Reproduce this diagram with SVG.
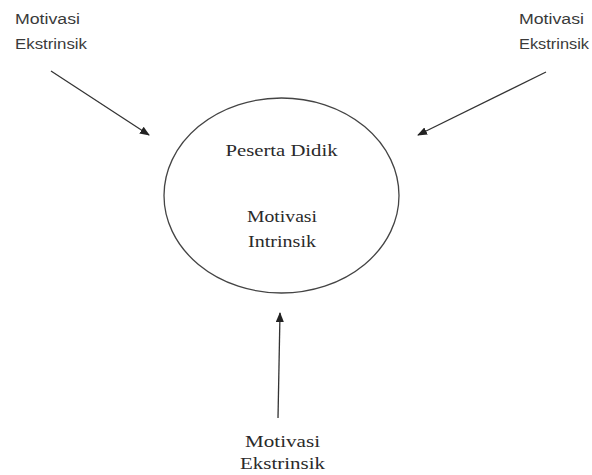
<svg xmlns="http://www.w3.org/2000/svg" width="592" height="475" viewBox="0 0 592 475">
<style>
.sans{font-family:"Liberation Sans",Arial,sans-serif;font-size:14px;fill:#3a3a3a}
.serif{font-family:"Liberation Serif","Times New Roman",serif;font-size:17px;fill:#2a2a2a;text-anchor:middle}
.conn{stroke:#333;stroke-width:1.3;fill:none;marker-end:url(#ah)}
</style>
<defs>
<marker id="ah" markerWidth="10" markerHeight="8" refX="9" refY="4" orient="auto" markerUnits="userSpaceOnUse">
<path d="M0,0 L10,4 L0,8 Z" fill="#222"/>
</marker>
</defs>
<rect width="592" height="475" fill="#fff"/>
<g id="connectors">
<line class="conn" x1="51" y1="71" x2="149" y2="135"/>
<line class="conn" x1="546" y1="72" x2="418" y2="135"/>
<line class="conn" x1="278" y1="418" x2="280" y2="313"/>
</g>
<g id="node-center">
<ellipse cx="281.5" cy="195.5" rx="117.5" ry="97.5" fill="none" stroke="#444" stroke-width="1.3"/>
<text class="serif" x="281.5" y="156" textLength="112" lengthAdjust="spacingAndGlyphs">Peserta Didik</text>
<text class="serif" x="282" y="222" textLength="70" lengthAdjust="spacingAndGlyphs">Motivasi</text>
<text class="serif" x="282" y="247" textLength="68" lengthAdjust="spacingAndGlyphs">Intrinsik</text>
</g>
<g id="node-top-left">
<text class="sans" x="15" y="24" textLength="65" lengthAdjust="spacingAndGlyphs">Motivasi</text>
<text class="sans" x="15" y="49" textLength="72" lengthAdjust="spacingAndGlyphs">Ekstrinsik</text>
</g>
<g id="node-top-right">
<text class="sans" x="519" y="24" textLength="65" lengthAdjust="spacingAndGlyphs">Motivasi</text>
<text class="sans" x="519" y="49" textLength="70" lengthAdjust="spacingAndGlyphs">Ekstrinsik</text>
</g>
<g id="node-bottom">
<text class="serif" x="282.5" y="447" textLength="75" lengthAdjust="spacingAndGlyphs">Motivasi</text>
<text class="serif" x="282.5" y="469" textLength="85" lengthAdjust="spacingAndGlyphs">Ekstrinsik</text>
</g>
</svg>
